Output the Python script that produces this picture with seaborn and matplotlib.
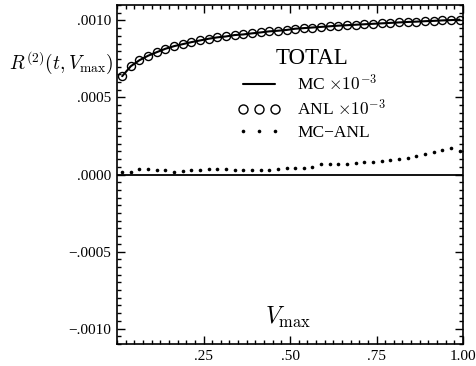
import numpy as np
import pandas as pd
import matplotlib
matplotlib.use("Agg")
import matplotlib.pyplot as plt
from matplotlib.ticker import MultipleLocator, FixedLocator, FixedFormatter
import seaborn as sns

# V_max bin centres
v_max = [0.015, 0.040, 0.065, 0.090, 0.115, 0.140, 0.165, 0.190, 0.215, 0.240,
         0.265, 0.290, 0.315, 0.340, 0.365, 0.390, 0.415, 0.440, 0.465, 0.490,
         0.515, 0.540, 0.565, 0.590, 0.615, 0.640, 0.665, 0.690, 0.715, 0.740,
         0.765, 0.790, 0.815, 0.840, 0.865, 0.890, 0.915, 0.940, 0.965, 0.990]

# Monte Carlo total R^(2)(t, V_max)
mc_total = [0.638, 0.703, 0.742, 0.771, 0.794, 0.816, 0.833, 0.846, 0.859, 0.870,
            0.881, 0.890, 0.896, 0.905, 0.909, 0.916, 0.922, 0.929, 0.933, 0.938,
            0.946, 0.950, 0.954, 0.958, 0.962, 0.966, 0.969, 0.972, 0.975, 0.978,
            0.981, 0.984, 0.987, 0.990, 0.992, 0.995, 0.997, 1.000, 1.002, 1.005]

# Difference MC - analytic
mc_minus_anl = [0.0000175, 0.0000175, 0.000037, 0.000037, 0.000026, 0.000028,
                0.0000175, 0.000024, 0.000026, 0.000030, 0.000037, 0.000037,
                0.000035, 0.000032, 0.000030, 0.000026, 0.000028, 0.000030,
                0.000035, 0.000039, 0.000039, 0.000043, 0.000048, 0.000065,
                0.000067, 0.000067, 0.000069, 0.000074, 0.000078, 0.000082,
                0.000089, 0.000095, 0.000102, 0.000110, 0.000119, 0.000130,
                0.000145, 0.000158, 0.000169, 0.000154]

y_ticks = [-0.0010, -0.0005, 0.0, 0.0005, 0.0010]
y_tick_labels = ["\u2212.0010", "\u2212.0005", ".0000", ".0005", ".0010"]
x_ticks = [0.25, 0.50, 0.75, 1.00]
x_tick_labels = [".25", ".50", ".75", "1.00"]

sns.set_style("ticks")
plt.rcParams["font.family"] = ["Liberation Serif", "DejaVu Serif"]
plt.rcParams["mathtext.fontset"] = "cm"
plt.rcParams["text.color"] = "black"
plt.rcParams["axes.labelcolor"] = "black"

df = pd.DataFrame({"v": v_max, "mc": mc_total, "diff": mc_minus_anl})
df["anl"] = df["mc"] - df["diff"]
df["mc_s"] = df["mc"] * 1e-3
df["anl_s"] = df["anl"] * 1e-3

fig = plt.figure(figsize=(4.76, 3.66), dpi=100)
ax = fig.add_axes([117 / 476, 1 - 344 / 366, 346 / 476, 339 / 366])

ax.axhline(0.0, color="black", lw=1.3, zorder=1)

sns.lineplot(data=df, x="v", y="mc_s", ax=ax, color="black", lw=1.5,
             label=r"MC $\times10^{-3}$", zorder=3)
sns.lineplot(data=df, x="v", y="anl_s", ax=ax, color="black", linestyle="none",
             marker="o", markersize=5.8, markerfacecolor="none",
             markeredgecolor="black", markeredgewidth=1.0,
             label=r"ANL $\times10^{-3}$", zorder=4)
sns.lineplot(data=df, x="v", y="diff", ax=ax, color="black", linestyle="none",
             marker="o", markersize=2.6, markerfacecolor="black",
             markeredgecolor="black", markeredgewidth=0.0,
             label="MC\u2212ANL", zorder=4)

ax.set_xlim(0.0, 1.0)
ax.set_ylim(-0.0011, 0.0011)
ax.xaxis.set_major_locator(FixedLocator(x_ticks))
ax.xaxis.set_major_formatter(FixedFormatter(x_tick_labels))
ax.yaxis.set_major_locator(FixedLocator(y_ticks))
ax.yaxis.set_major_formatter(FixedFormatter(y_tick_labels))
ax.xaxis.set_minor_locator(MultipleLocator(0.025))
ax.yaxis.set_minor_locator(MultipleLocator(0.00005))
ax.tick_params(which="both", direction="in", top=True, right=True,
               width=1.0, labelsize=11, colors="black")
ax.tick_params(which="major", length=6, pad=4.5)
ax.tick_params(which="minor", length=3)
for s in ax.spines.values():
    s.set_linewidth(1.2)
    s.set_color("black")
ax.set_xlabel("")
ax.set_ylabel("")

leg = ax.legend(loc="upper left", bbox_to_anchor=(0.33, 0.895), frameon=False,
                title="TOTAL", fontsize=12.5, title_fontsize=16.5, numpoints=3,
                handlelength=2.4, handletextpad=1.0, labelspacing=0.3,
                borderaxespad=0.0)
leg.legend_handles[1].set_markersize(6.5)

ax.text(0.494, 0.078, r"$V_{\mathrm{max}}$", transform=ax.transAxes,
        ha="center", va="center", fontsize=17)
fig.text(114 / 476, 1 - 63 / 366, r"$R^{(2)}(t,V_{\mathrm{max}})$",
         ha="right", va="center", fontsize=14)

fig.savefig("out.png", dpi=100, facecolor="white")
